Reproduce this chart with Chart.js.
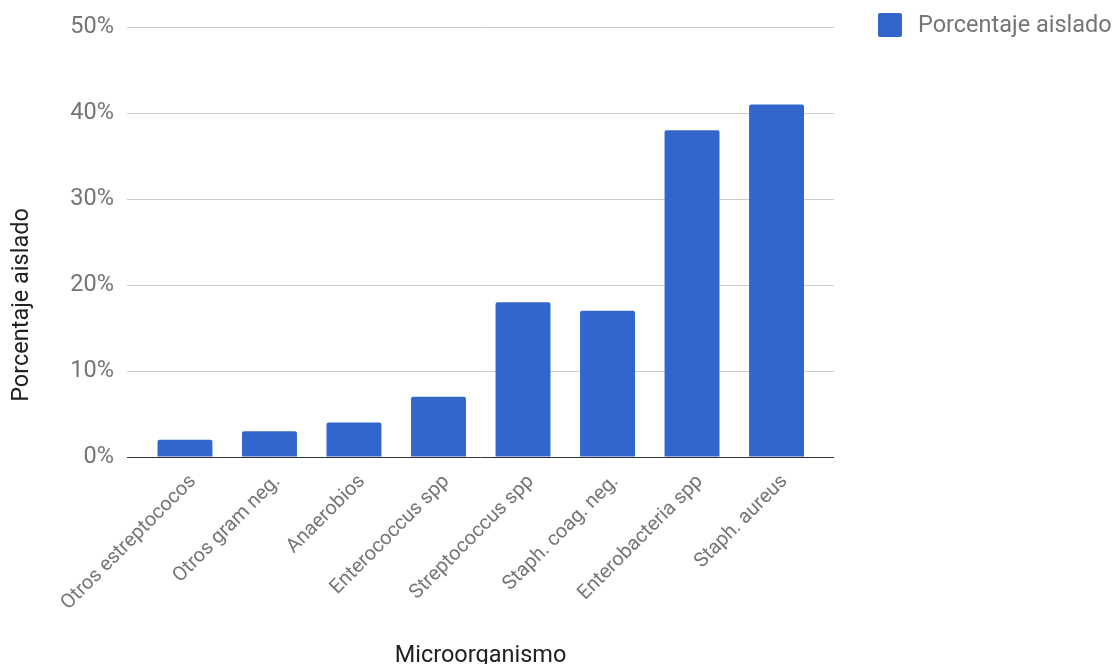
<!DOCTYPE html>
<html>
<head>
<meta charset="utf-8">
<script src="https://cdn.jsdelivr.net/npm/chart.js@4.4.1/dist/chart.umd.min.js"></script>
<style>
  html, body { margin: 0; padding: 0; background: #fff; }
</style>
</head>
<body>
<canvas id="chart" width="1117" height="664"></canvas>
<script>
// data
const categories = [
  'Otros estreptococos', 'Otros gram neg.', 'Anaerobios', 'Enterococcus spp',
  'Streptococcus spp', 'Staph. coag. neg.', 'Enterobacteria spp', 'Staph. aureus'
];
const values = [2, 3, 4, 7, 18, 17, 38, 41];
const yTicks = [0, 10, 20, 30, 40, 50];
const seriesName = 'Porcentaje aislado';
const xTitle = 'Microorganismo';
const yTitle = 'Porcentaje aislado';

const FONT = 'Roboto';
const GREY = '#757575';

// legend to the right of the plot + y title, which sits lower than the plot middle
const extras = {
  id: 'extras',
  afterDraw(chart) {
    const ctx = chart.ctx;
    const ds = chart.data.datasets[0];
    ctx.save();
    ctx.fillStyle = ds.backgroundColor;
    ctx.beginPath();
    ctx.roundRect(878, 13, 24, 24, 2);
    ctx.fill();
    ctx.fillStyle = GREY;
    ctx.font = '23.5px ' + FONT;
    ctx.textBaseline = 'middle';
    ctx.fillText(ds.label, 918, 26);

    ctx.translate(22, 305);
    ctx.rotate(-Math.PI / 2);
    ctx.textAlign = 'center';
    ctx.fillStyle = '#222';
    ctx.fillText(yTitle, 0, 0);
    ctx.restore();
  }
};

new Chart('chart', {
  type: 'bar',
  data: {
    datasets: [{
      label: seriesName,
      data: values.map((v, i) => ({ x: i, y: v })),
      backgroundColor: '#3366cc',
      borderRadius: 2,
      barPercentage: 0.65,
      categoryPercentage: 1,
    }],
  },
  options: {
    responsive: false,
    animation: false,
    devicePixelRatio: 1,
    layout: { padding: { top: 26, right: 283, bottom: 0, left: 0 } },
    plugins: {
      legend: { display: false },
      tooltip: { enabled: false },
    },
    scales: {
      x: {
        type: 'linear',
        offset: false,
        min: -0.686,
        max: 7.68,
        afterBuildTicks: (s) => { s.ticks = categories.map((c, i) => ({ value: i })); },
        afterFit: (s) => { s.height = 207; },
        grid: { display: false },
        border: { display: false },
        ticks: {
          autoSkip: false,
          minRotation: 45,
          maxRotation: 45,
          padding: 5,
          labelOffset: 8,
          color: GREY,
          font: { family: FONT, size: 20 },
          callback: (v) => categories[v],
        },
        title: {
          display: true,
          text: xTitle,
          color: '#222',
          font: { family: FONT, size: 23.5, lineHeight: 0.7 },
          padding: 0,
        },
      },
      y: {
        min: 0,
        max: 50,
        afterBuildTicks: (s) => { s.ticks = yTicks.map((v) => ({ value: v })); },
        afterFit: (s) => { s.width = 127; },
        border: { display: false },
        grid: {
          drawTicks: false,
          color: (c) => (c.tick && c.tick.value === 0 ? '#333' : '#ccc'),
          lineWidth: 1,
        },
        ticks: {
          padding: 13,
          color: GREY,
          font: { family: FONT, size: 23.5 },
          callback: (v) => v + '%',
        },
      },
    },
  },
  plugins: [extras],
});
</script>
</body>
</html>
